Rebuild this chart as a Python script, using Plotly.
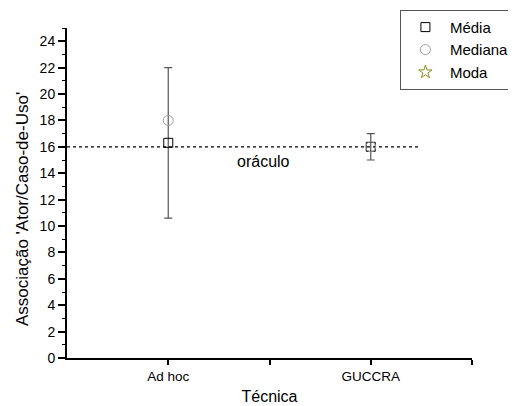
import plotly.graph_objects as go

categories = ["Ad hoc", "GUCCRA"]
cat_pos = [1, 2]
media = [16.3, 16.0]
media_err_plus = [5.7, 1.0]
media_err_minus = [5.7, 1.0]
mediana = [18.0, 16.0]
moda = [None, None]
oracle_value = 16.0
oracle_label = "oráculo"
y_ticks = list(range(0, 25, 2))
y_title = "Associação 'Ator/Caso-de-Uso'"
x_title = "Técnica"

font_family = "Liberation Sans, Arial, sans-serif"

fig = go.Figure()

fig.add_trace(go.Scatter(
    x=cat_pos, y=media, mode="markers", name="Média",
    marker=dict(symbol="square-open", size=9, color="black", line=dict(width=1)),
    error_y=dict(type="data", symmetric=False, array=media_err_plus,
                 arrayminus=media_err_minus, color="#555555", thickness=1.2, width=4),
))
fig.add_trace(go.Scatter(
    x=cat_pos, y=mediana, mode="markers", name="Mediana",
    marker=dict(symbol="circle-open", size=10, color="#a0a0a0", line=dict(width=1)),
))
fig.add_trace(go.Scatter(
    x=cat_pos, y=moda, mode="markers", name="Moda",
    marker=dict(symbol="star-open", size=10, color="#8a8a20", line=dict(width=1)),
))

fig.add_shape(type="line", xref="x", yref="y", x0=0.5, x1=2.24,
              y0=oracle_value, y1=oracle_value,
              line=dict(color="black", width=1.2, dash="dot"), layer="below")
fig.add_annotation(x=1.47, y=oracle_value - 1.15, xref="x", yref="y", text=oracle_label,
                   showarrow=False, font=dict(size=16, color="black", family=font_family))
fig.add_annotation(x=-0.111, y=0.4515, xref="paper", yref="paper", text=y_title,
                   textangle=-90, showarrow=False, xanchor="center", yanchor="middle",
                   font=dict(size=17, color="black", family=font_family))

fig.update_layout(
    width=508, height=398,
    margin=dict(l=59, r=44, t=20, b=48, autoexpand=False),
    paper_bgcolor="white", plot_bgcolor="white",
    font=dict(family=font_family, color="black", size=13),
    showlegend=True,
    legend=dict(x=0.822, y=1.055, xanchor="left", yanchor="top",
                bordercolor="#555555", borderwidth=1, bgcolor="white",
                font=dict(size=15), itemwidth=39, tracegroupgap=0),
)
fig.update_xaxes(
    range=[0.5, 2.5], tickvals=[1, 1.5, 2, 2.5], ticktext=[categories[0], "", categories[1], ""],
    showgrid=False, zeroline=False, showline=True, linecolor="black", linewidth=2,
    ticks="outside", ticklen=5, tickwidth=1.5, tickcolor="black", automargin=False,
    tickfont=dict(size=13.5),
    title=dict(text=x_title, font=dict(size=16), standoff=8),
)
fig.update_yaxes(
    range=[0, 25], tickvals=y_ticks, showgrid=False, zeroline=False,
    showline=True, linecolor="black", linewidth=2,
    ticks="outside", ticklen=7, tickwidth=1.5, tickcolor="black", automargin=False,
    minor=dict(ticks="outside", ticklen=3, dtick=1, tickcolor="black", tickwidth=1.2),
    tickfont=dict(size=14),
)

fig.write_html("out.html")
